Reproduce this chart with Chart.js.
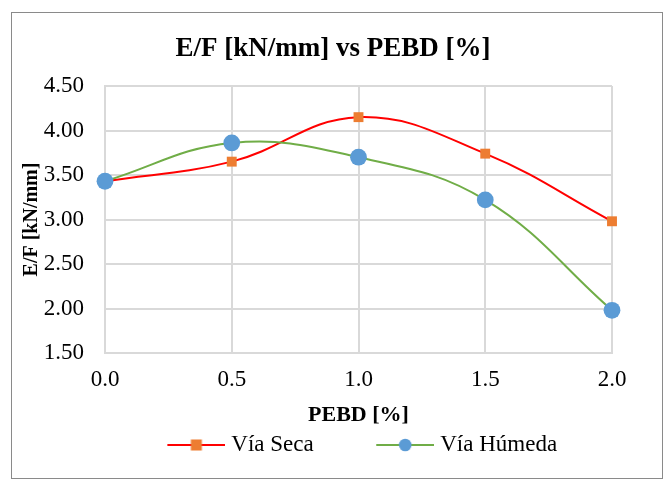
<!DOCTYPE html>
<html>
<head>
<meta charset="utf-8">
<script src="https://cdn.jsdelivr.net/npm/chart.js@4/dist/chart.umd.min.js"></script>
<style>
  html, body { margin: 0; padding: 0; background: #fff; }
  #wrap { position: relative; width: 665px; height: 481px; }
  #wrap canvas { position: absolute; left: 0; top: 0; }
  #frame { position: absolute; left: 11px; top: 12px; width: 652px; height: 467px;
           box-sizing: border-box; border: 1px solid #8a8a8a; pointer-events: none; }
</style>
</head>
<body>
<div id="wrap">
  <canvas id="chart" width="665" height="481"></canvas>
  <div id="frame"></div>
</div>
<script>
// PEBD content (%) on the x axis
const pebd = [0.0, 0.5, 1.0, 1.5, 2.0];
// E/F ratio (kN/mm) for each mixing method
const viaSeca = [3.43, 3.65, 4.15, 3.74, 2.98];
const viaHumeda = [3.43, 3.86, 3.70, 3.22, 1.98];
const seriesNames = ['Vía Seca', 'Vía Húmeda'];
// axis tick labels
const xTickLabels = ['0.0', '0.5', '1.0', '1.5', '2.0'];
const yTickLabels = ['1.50', '2.00', '2.50', '3.00', '3.50', '4.00', '4.50'];
const chartTitle = 'E/F [kN/mm] vs PEBD [%]';
const xTitle = 'PEBD [%]';
const yTitle = 'E/F [kN/mm]';

const FONT = "'Liberation Serif', 'Times New Roman', serif";
const RED = '#FF0000', ORANGE = '#ED7D31', GREEN = '#70AD47', BLUE = '#5B9BD5';
const GRID = '#D9D9D9';

Chart.defaults.font.family = FONT;
Chart.defaults.color = '#000';

// legend swatch: short line with the series marker in the middle
function swatch(lineColor, markerColor, shape) {
  const c = document.createElement('canvas');
  c.width = 122; c.height = 16;
  const g = c.getContext('2d');
  g.strokeStyle = lineColor; g.lineWidth = 2;
  g.beginPath(); g.moveTo(64, 8); g.lineTo(122, 8); g.stroke();
  g.fillStyle = markerColor;
  if (shape === 'rect') {
    g.fillRect(93 - 5.5, 8 - 5.5, 11, 11);
  } else {
    g.beginPath(); g.arc(93, 8, 6.3, 0, Math.PI * 2); g.fill();
  }
  return c;
}
const swatches = [swatch(RED, ORANGE, 'rect'), swatch(GREEN, BLUE, 'circle')];

const toPoints = ys => ys.map((y, i) => ({ x: pebd[i], y }));

new Chart(document.getElementById('chart'), {
  type: 'line',
  data: {
    datasets: [
      {
        label: seriesNames[0],
        data: toPoints(viaSeca),
        borderColor: RED, borderWidth: 2,
        pointStyle: 'rect', pointRadius: 7, pointBorderWidth: 0,
        pointBackgroundColor: ORANGE, pointBorderColor: ORANGE,
        tension: 0.4, order: 1, clip: false
      },
      {
        label: seriesNames[1],
        data: toPoints(viaHumeda),
        borderColor: GREEN, borderWidth: 2,
        pointStyle: 'circle', pointRadius: 8.4, pointBorderWidth: 0,
        pointBackgroundColor: BLUE, pointBorderColor: BLUE,
        tension: 0.4, order: 0, clip: false
      }
    ]
  },
  options: {
    responsive: false,
    animation: false,
    devicePixelRatio: 1,
    layout: { padding: { left: 11, right: 10, top: 12, bottom: 14.5 } },
    plugins: {
      title: {
        display: true, text: chartTitle, color: '#000',
        font: { family: FONT, size: 27, weight: 'bold' },
        padding: { top: 21, bottom: 20.6 }
      },
      legend: {
        position: 'bottom',
        labels: {
          usePointStyle: true, pointStyleWidth: 111, padding: 4, color: '#000',
          font: { family: FONT, size: 23 },
          generateLabels(chart) {
            const items = Chart.defaults.plugins.legend.labels.generateLabels(chart);
            items.sort((a, b) => a.datasetIndex - b.datasetIndex);
            items.forEach(it => { it.pointStyle = swatches[it.datasetIndex]; });
            return items;
          }
        }
      },
      tooltip: { enabled: false }
    },
    scales: {
      x: {
        type: 'linear', min: 0, max: 2,
        ticks: {
          stepSize: 0.5, padding: 13.5, color: '#000',
          font: { family: FONT, size: 23 },
          callback: (v, i) => xTickLabels[i]
        },
        grid: { color: GRID, lineWidth: 2, drawTicks: false },
        border: { color: GRID, width: 2 },
        title: {
          display: true, text: xTitle, color: '#000',
          font: { family: FONT, size: 22, weight: 'bold' },
          padding: { top: 0, bottom: 0.8 }
        },
        afterFit: s => { s.height = 76.5; }
      },
      y: {
        type: 'linear', min: 1.5, max: 4.5,
        ticks: {
          stepSize: 0.5, padding: 21, color: '#000',
          font: { family: FONT, size: 23 },
          callback: (v, i) => yTickLabels[i]
        },
        grid: { color: GRID, lineWidth: 2, drawTicks: false },
        border: { color: GRID, width: 2 },
        title: {
          display: true, text: yTitle, color: '#000',
          font: { family: FONT, size: 20, weight: 'bold' },
          padding: { top: 9, bottom: 0 }
        },
        afterFit: s => { s.width = 94; }
      },
      // empty right-hand gutter so the plot ends short of the frame
      gutter: {
        type: 'linear', position: 'right', display: true,
        ticks: { display: false }, grid: { display: false, drawTicks: false },
        border: { display: false },
        afterFit: s => { s.width = 43; }
      }
    }
  }
});
</script>
</body>
</html>
